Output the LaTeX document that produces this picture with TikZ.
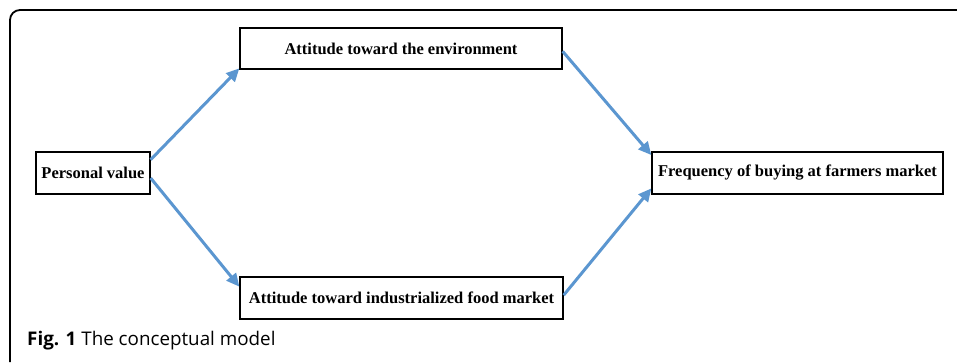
\documentclass[tikz,border=0pt]{standalone}
\usepackage{fontspec}
\setmainfont{Liberation Serif}
\newfontfamily\capfont{Open Sans}
\usetikzlibrary{arrows.meta}
\definecolor{arrowblue}{RGB}{91,150,208}
\begin{document}
\begin{tikzpicture}[x=1pt, y=-1pt,
    box/.style={draw, line width=1.3pt, inner sep=0pt, font=\fontsize{16.5}{20}\selectfont\bfseries},
    link/.style={->, >={Triangle[length=13pt,width=12pt]}, line width=3pt, arrowblue}]
 	\useasboundingbox (0,0) rectangle (957,362);
 	\draw [line width=1.8pt, rounded corners=10pt] (10,362) -- (10,10) -- (957,10);
 	
 	\node [box, minimum width=322pt, minimum height=41pt] (env) at (401,48.5) {Attitude toward the environment};
 	\node [box, minimum width=114pt, minimum height=42pt] (pv) at (93,173) {Personal value};
 	\node [box, minimum width=323pt, minimum height=42pt] (ind) at (401.5,298) {Attitude toward industrialized food market};
 	\node [box, minimum width=291pt, minimum height=42pt] (freq) at (797.5,173) {Frequency of buying at farmers market};
 	
 	\draw [link] (pv.13) -- (env.187);
 	\draw [link] (pv.-5) -- (ind.176);
 	\draw [link] (env.-1) -- (freq.173);
 	\draw [link] (ind.1) -- (freq.186);
 	
 	\node [anchor=base west, inner sep=0pt, font=\capfont\fontsize{18.8}{22}\selectfont] (cap) at (27,345) {\textbf{Fig. 1} The conceptual model};
\end{tikzpicture}
\end{document}
